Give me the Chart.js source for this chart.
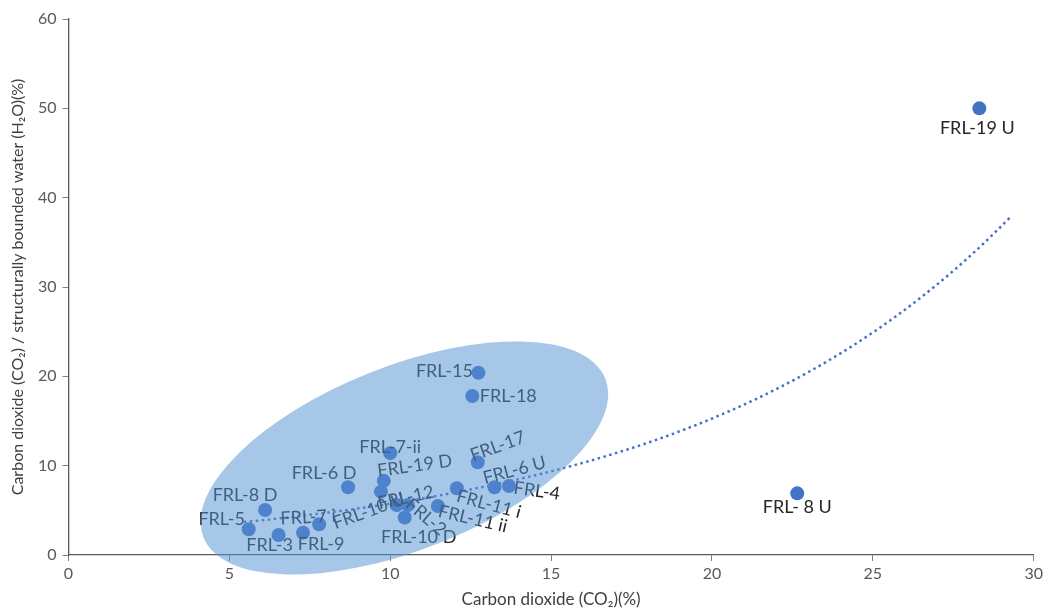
<!DOCTYPE html>
<html>
<head>
<meta charset="utf-8">
<script src="https://cdn.jsdelivr.net/npm/chart.js@4.4.1/dist/chart.umd.min.js"></script>
<style>
  html, body { margin: 0; padding: 0; background: #ffffff; }
  #wrap { width: 1046px; height: 610px; position: relative; }
</style>
</head>
<body>
<div id="wrap"><canvas id="chart" width="1046" height="610"></canvas></div>
<script>
// Sample names and measured values
const sampleNames = [
  'FRL-5', 'FRL-8 D', 'FRL-3', 'FRL-9', 'FRL-7 i', 'FRL-6 D',
  'FRL-7-ii', 'FRL-19 D', 'FRL-12', 'FRL-10 U', 'FRL-2', 'FRL-10 D',
  'FRL-11 ii', 'FRL-11 i', 'FRL-17', 'FRL-6 U', 'FRL-4',
  'FRL-15', 'FRL-18', 'FRL-19 U', 'FRL- 8 U'
];
// Carbon dioxide (CO2) %
const co2Values = [
  5.60, 6.11, 6.53, 7.29, 7.79, 8.69,
  10.00, 9.80, 9.71, 10.20, 10.55, 10.45,
  11.48, 12.07, 12.72, 13.24, 13.69,
  12.74, 12.55, 28.31, 22.65
];
// CO2 / structurally bounded water (H2O) %
const ratioValues = [
  2.88, 5.04, 2.24, 2.50, 3.44, 7.58,
  11.40, 8.30, 7.09, 5.60, 5.60, 4.20,
  5.49, 7.47, 10.38, 7.58, 7.73,
  20.40, 17.80, 50.00, 6.90
];
const xTicks = [0, 5, 10, 15, 20, 25, 30];
const yTicks = [0, 10, 20, 30, 40, 50, 60];

// Exponential trendline y = a * e^(b x), drawn over its x range (with forecast)
const trendA = 2.16;
const trendB = 0.0978;
const trendRange = [5.45, 29.3];

// Label placement around each marker: pixel offset of the text centre and rotation (deg)
const labelPlacement = [
  { dx: -27, dy: -10, rot: 0 },   // FRL-5
  { dx: -20, dy: -15, rot: 0 },   // FRL-8 D
  { dx: -9,  dy: 10,  rot: 0 },   // FRL-3
  { dx: 18,  dy: 12,  rot: 0 },   // FRL-9
  { dx: -11, dy: -7,  rot: -3 },  // FRL-7 i
  { dx: -24, dy: -14, rot: 0 },   // FRL-6 D
  { dx: 0,   dy: -6,  rot: 0 },   // FRL-7-ii
  { dx: 31,  dy: -15, rot: -8 },  // FRL-19 D
  { dx: 25,  dy: 6,   rot: -12 }, // FRL-12
  { dx: -28, dy: 6,   rot: -20 }, // FRL-10 U
  { dx: 18,  dy: 12,  rot: 40 },  // FRL-2
  { dx: 14,  dy: 20,  rot: 0 },   // FRL-10 D
  { dx: 35,  dy: 13,  rot: 13 },  // FRL-11 ii
  { dx: 32,  dy: 16,  rot: 15 },  // FRL-11 i
  { dx: 20,  dy: -16, rot: -20 }, // FRL-17
  { dx: 20,  dy: -17, rot: -15 }, // FRL-6 U
  { dx: 28,  dy: 5,   rot: 8 },   // FRL-4
  { dx: -34, dy: -2,  rot: 0 },   // FRL-15
  { dx: 36,  dy: 0,   rot: 0 },   // FRL-18
  { dx: -2,  dy: 20,  rot: 0 },   // FRL-19 U
  { dx: 0,   dy: 14,  rot: 0 }    // FRL- 8 U
];

const trendPoints = [];
for (let i = 0; i <= 120; i++) {
  const x = trendRange[0] + (trendRange[1] - trendRange[0]) * i / 120;
  trendPoints.push({ x, y: trendA * Math.exp(trendB * x) });
}

const points = co2Values.map((x, i) => ({ x, y: ratioValues[i] }));

const FONT = 'Lato, "Open Sans", "Liberation Sans", sans-serif';

// Highlight ellipse around the main sample group: centre in data units, shape in pixels
const groupEllipse = { cx: 10.44, cy: 10.86, rx: 216, ry: 92, angleDeg: -21.5, fill: 'rgba(86,148,210,0.52)' };

const labelsAndGroup = {
  id: 'labelsAndGroup',
  afterDatasetsDraw(chart) {
    const ctx = chart.ctx;
    const meta = chart.getDatasetMeta(1);
    ctx.save();
    ctx.font = '18px ' + FONT;
    ctx.fillStyle = '#262626';
    ctx.textAlign = 'center';
    ctx.textBaseline = 'middle';
    meta.data.forEach((el, i) => {
      const p = labelPlacement[i];
      ctx.save();
      ctx.translate(el.x + p.dx, el.y + p.dy);
      ctx.rotate(p.rot * Math.PI / 180);
      ctx.fillText(sampleNames[i], 0, 0);
      ctx.restore();
    });
    // translucent group outline drawn over markers and labels
    const xs = chart.scales.x, ys = chart.scales.y;
    const cx = xs.getPixelForValue(groupEllipse.cx);
    const cy = ys.getPixelForValue(groupEllipse.cy);
    ctx.beginPath();
    ctx.ellipse(cx, cy, groupEllipse.rx, groupEllipse.ry, groupEllipse.angleDeg * Math.PI / 180, 0, Math.PI * 2);
    ctx.fillStyle = groupEllipse.fill;
    ctx.fill();
    ctx.restore();
  }
};

new Chart(document.getElementById('chart'), {
  type: 'scatter',
  data: {
    datasets: [
      {
        type: 'line',
        data: trendPoints,
        borderColor: '#4472c4',
        borderWidth: 2.5,
        borderDash: [2.5, 3.5],
        pointRadius: 0,
        fill: false,
        tension: 0,
        order: 2
      },
      {
        data: points,
        backgroundColor: '#4472c4',
        borderColor: '#4472c4',
        borderWidth: 0,
        pointRadius: 7,
        order: 1
      }
    ]
  },
  options: {
    responsive: false,
    animation: false,
    devicePixelRatio: 1,
    layout: { padding: { top: 19, right: 9, left: 0, bottom: 0 } },
    plugins: {
      legend: { display: false },
      tooltip: { enabled: false }
    },
    scales: {
      x: {
        type: 'linear',
        min: 0, max: 30,
        afterBuildTicks: s => { s.ticks = xTicks.map(v => ({ value: v })); },
        afterFit: s => { s.height = 55; },
        ticks: { font: { family: FONT, size: 16 }, color: '#595959', padding: 3 },
        grid: { drawOnChartArea: false, drawTicks: true, tickLength: 6, color: '#7f7f7f' },
        border: { color: '#595959', width: 1.3 },
        title: {
          display: true,
          text: 'Carbon dioxide (CO\u2082)(%)',
          font: { family: FONT, size: 17 },
          color: '#404040',
          padding: { top: 0, bottom: 0 }
        }
      },
      y: {
        type: 'linear',
        min: 0, max: 60,
        afterBuildTicks: s => { s.ticks = yTicks.map(v => ({ value: v })); },
        afterFit: s => { s.width = 68.5; },
        ticks: { font: { family: FONT, size: 16 }, color: '#595959', padding: 6 },
        grid: { drawOnChartArea: false, drawTicks: true, tickLength: 6, color: '#7f7f7f' },
        border: { color: '#595959', width: 1.3 },
        title: {
          display: true,
          text: 'Carbon dioxide (CO\u2082) / structurally bounded water (H\u2082O)(%)',
          font: { family: FONT, size: 16 },
          color: '#404040',
          padding: { top: 8, bottom: 0 }
        }
      }
    }
  },
  plugins: [labelsAndGroup]
});
</script>
</body>
</html>
